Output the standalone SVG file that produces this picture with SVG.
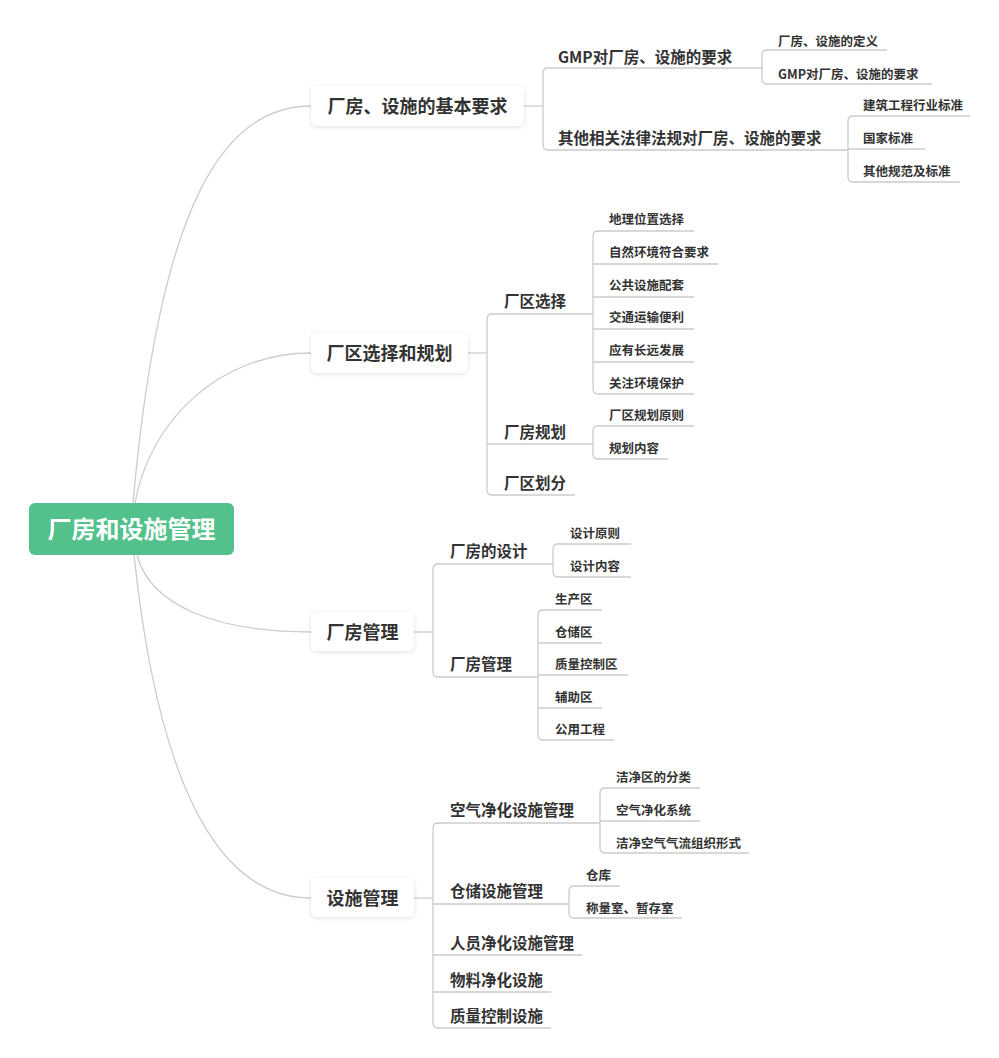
<svg xmlns="http://www.w3.org/2000/svg" width="999" height="1058" viewBox="0 0 999 1058">
<defs>
<filter id="sh" x="-10%" y="-25%" width="120%" height="160%">
<feDropShadow dx="0" dy="1" stdDeviation="2" flood-color="#000" flood-opacity="0.13"/>
</filter>
<style>
.t{font-family:"Noto Sans CJK SC","Noto Sans",sans-serif;fill:#333;font-weight:bold}
.root{font-size:24px;fill:#fff}
.l1{font-size:18px}
.l2{font-size:15.5px}
.l3{font-size:12.5px}
.c{fill:none;stroke:#cccccc;stroke-width:1.3}
.box{fill:#fff;filter:url(#sh)}
</style>
</defs>
<rect width="999" height="1058" fill="#fff"/>
<g id="connectors">
<path class="c" d="M133,503 C160,200 225,106 311,106"/>
<path class="c" d="M135,503 C150,420 220,353 311,353"/>
<path class="c" d="M137,555 C150,605 215,632 311,632"/>
<path class="c" d="M134,555 C160,800 225,898 311,898"/>
<!-- node1 -->
<path class="c" d="M524,106 H543"/>
<path class="c" d="M762,68 H548 Q543,68 543,73 V145 Q543,150 548,150 H848"/>
<path class="c" d="M887,50 H767 Q762,50 762,55 V79 Q762,84 767,84 H932"/>
<path class="c" d="M970,116 H853 Q848,116 848,121 V177 Q848,182 853,182 H960"/>
<path class="c" d="M848,149 H925"/>
<!-- node2 -->
<path class="c" d="M468,353 H487"/>
<path class="c" d="M593,314 H492 Q487,314 487,319 V490 Q487,495 492,495 H575"/>
<path class="c" d="M487,444 H593"/>
<path class="c" d="M694,231 H598 Q593,231 593,236 V389 Q593,394 598,394 H694"/>
<path class="c" d="M593,264 H718 M593,297 H694 M593,329 H694 M593,362 H694"/>
<path class="c" d="M694,426 H598 Q593,426 593,431 V454 Q593,459 598,459 H668"/>
<!-- node3 -->
<path class="c" d="M414,632 H433"/>
<path class="c" d="M553,564 H438 Q433,564 433,569 V672 Q433,677 438,677 H538"/>
<path class="c" d="M631,544 H558 Q553,544 553,549 V572 Q553,577 558,577 H631"/>
<path class="c" d="M602,610 H543 Q538,610 538,615 V735 Q538,740 543,740 H614"/>
<path class="c" d="M538,643 H602 M538,675 H628 M538,708 H602"/>
<!-- node4 -->
<path class="c" d="M414,898 H433"/>
<path class="c" d="M600,823 H438 Q433,823 433,828 V1023 Q433,1028 438,1028 H551"/>
<path class="c" d="M433,904 H569 M433,955 H582 M433,992 H551"/>
<path class="c" d="M700,788 H605 Q600,788 600,793 V848 Q600,853 605,853 H749"/>
<path class="c" d="M600,821 H700"/>
<path class="c" d="M620,886 H574 Q569,886 569,891 V913 Q569,918 574,918 H682"/>
</g>
<g id="root">
<rect x="29" y="503" width="205" height="52" rx="6" fill="#52c18b"/>
<text class="t root" x="131.5" y="537.5" text-anchor="middle">厂房和设施管理</text>
</g>
<g id="n1">
<rect class="box" x="311" y="86" width="213" height="40" rx="6"/>
<text class="t l1" x="417.5" y="112.5" text-anchor="middle">厂房、设施的基本要求</text>
</g>
<g id="n1-1"><text class="t l2" x="558" y="63">GMP对厂房、设施的要求</text></g>
<g id="n1-1-1"><text class="t l3" x="778" y="45.5">厂房、设施的定义</text></g>
<g id="n1-1-2"><text class="t l3" x="778" y="78.5">GMP对厂房、设施的要求</text></g>
<g id="n1-2"><text class="t l2" x="558" y="144">其他相关法律法规对厂房、设施的要求</text></g>
<g id="n1-2-1"><text class="t l3" x="863" y="110">建筑工程行业标准</text></g>
<g id="n1-2-2"><text class="t l3" x="863" y="143">国家标准</text></g>
<g id="n1-2-3"><text class="t l3" x="863" y="176">其他规范及标准</text></g>
<g id="n2">
<rect class="box" x="311" y="333" width="157" height="40" rx="6"/>
<text class="t l1" x="389.5" y="359.5" text-anchor="middle">厂区选择和规划</text>
</g>
<g id="n2-1"><text class="t l2" x="504" y="307">厂区选择</text></g>
<g id="n2-1-1"><text class="t l3" x="609" y="224">地理位置选择</text></g>
<g id="n2-1-2"><text class="t l3" x="609" y="257">自然环境符合要求</text></g>
<g id="n2-1-3"><text class="t l3" x="609" y="290">公共设施配套</text></g>
<g id="n2-1-4"><text class="t l3" x="609" y="322">交通运输便利</text></g>
<g id="n2-1-5"><text class="t l3" x="609" y="355">应有长远发展</text></g>
<g id="n2-1-6"><text class="t l3" x="609" y="388">关注环境保护</text></g>
<g id="n2-2"><text class="t l2" x="504" y="438">厂房规划</text></g>
<g id="n2-2-1"><text class="t l3" x="609" y="420">厂区规划原则</text></g>
<g id="n2-2-2"><text class="t l3" x="609" y="453">规划内容</text></g>
<g id="n2-3"><text class="t l2" x="504" y="489">厂区划分</text></g>
<g id="n3">
<rect class="box" x="311" y="612" width="103" height="39" rx="6"/>
<text class="t l1" x="362.5" y="638.5" text-anchor="middle">厂房管理</text>
</g>
<g id="n3-1"><text class="t l2" x="450" y="557">厂房的设计</text></g>
<g id="n3-1-1"><text class="t l3" x="570" y="538">设计原则</text></g>
<g id="n3-1-2"><text class="t l3" x="570" y="571">设计内容</text></g>
<g id="n3-2"><text class="t l2" x="450" y="670">厂房管理</text></g>
<g id="n3-2-1"><text class="t l3" x="555" y="604">生产区</text></g>
<g id="n3-2-2"><text class="t l3" x="555" y="637">仓储区</text></g>
<g id="n3-2-3"><text class="t l3" x="555" y="669">质量控制区</text></g>
<g id="n3-2-4"><text class="t l3" x="555" y="702">辅助区</text></g>
<g id="n3-2-5"><text class="t l3" x="555" y="734">公用工程</text></g>
<g id="n4">
<rect class="box" x="311" y="878" width="103" height="39" rx="6"/>
<text class="t l1" x="362.5" y="904.5" text-anchor="middle">设施管理</text>
</g>
<g id="n4-1"><text class="t l2" x="450" y="816">空气净化设施管理</text></g>
<g id="n4-1-1"><text class="t l3" x="616" y="782">洁净区的分类</text></g>
<g id="n4-1-2"><text class="t l3" x="616" y="815">空气净化系统</text></g>
<g id="n4-1-3"><text class="t l3" x="616" y="848">洁净空气气流组织形式</text></g>
<g id="n4-2"><text class="t l2" x="450" y="897">仓储设施管理</text></g>
<g id="n4-2-1"><text class="t l3" x="586" y="880">仓库</text></g>
<g id="n4-2-2"><text class="t l3" x="586" y="913">称量室、暂存室</text></g>
<g id="n4-3"><text class="t l2" x="450" y="949">人员净化设施管理</text></g>
<g id="n4-4"><text class="t l2" x="450" y="986">物料净化设施</text></g>
<g id="n4-5"><text class="t l2" x="450" y="1022">质量控制设施</text></g>
</svg>
